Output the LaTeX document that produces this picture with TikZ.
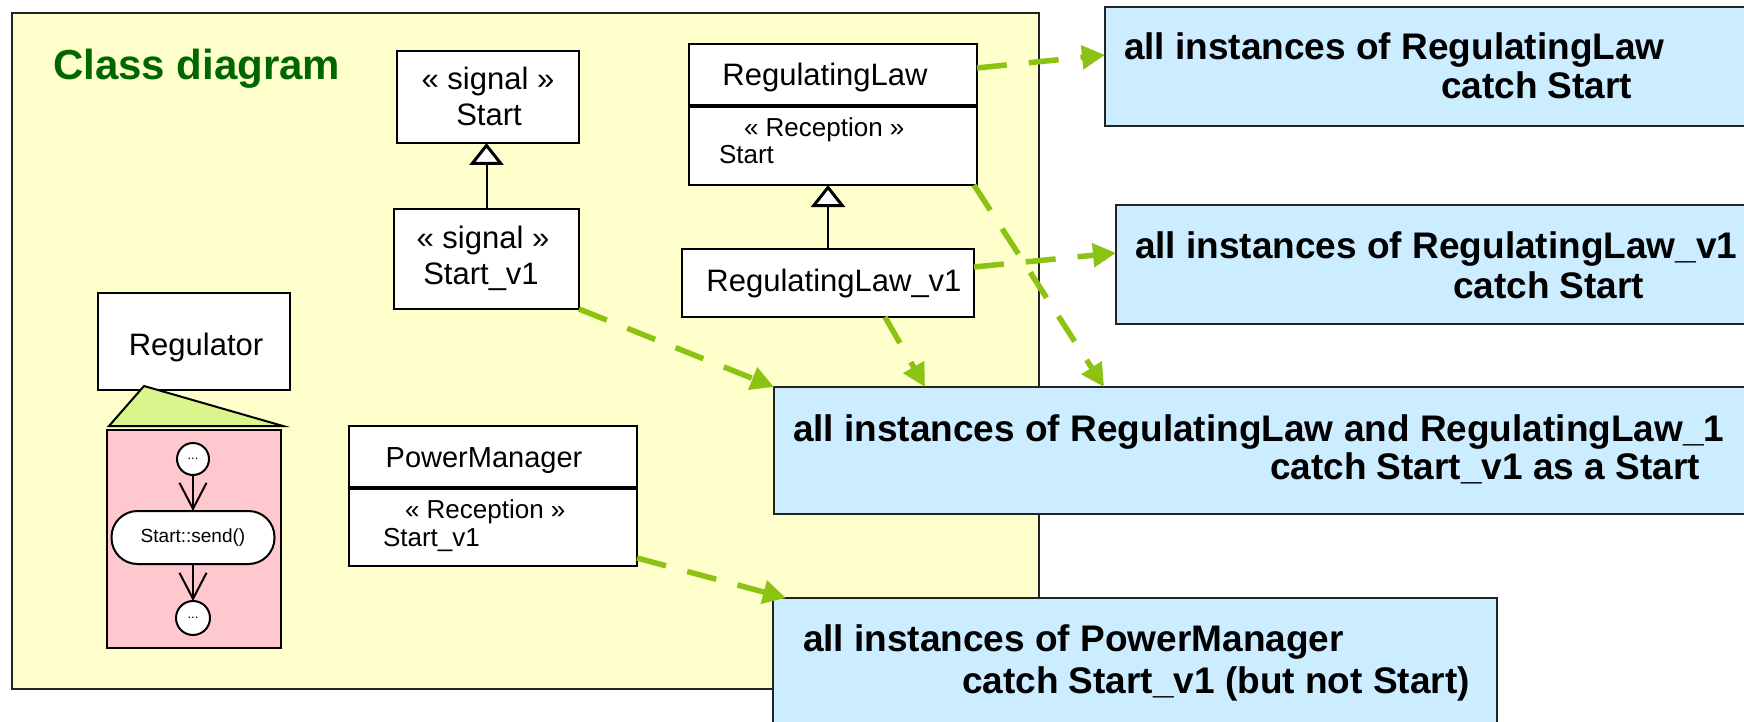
\documentclass[tikz,border=0pt]{standalone}
\usepackage{fontspec}
\setmainfont{Liberation Sans}
\usetikzlibrary{arrows.meta,calc}

\definecolor{frameyellow}{RGB}{255,255,204}
\definecolor{notebl}{RGB}{204,236,255}
\definecolor{linkgreen}{RGB}{140,194,18}
\definecolor{titlegreen}{RGB}{0,102,0}
\definecolor{behavpink}{RGB}{255,200,206}
\definecolor{ownergreen}{RGB}{217,245,140}
\definecolor{edgegray}{RGB}{35,35,35}

\newcommand\setpx[1]{\fontsize{#1}{#1}\selectfont}

\begin{document}
\begin{tikzpicture}[x=1pt,y=-1pt,
  every node/.style={inner sep=0pt, outer sep=0pt},
  frame/.style={draw=edgegray, line width=2pt, fill=frameyellow, anchor=north west},
  classbox/.style={draw=black, line width=2pt, fill=white, anchor=north west},
  note/.style={draw=edgegray, line width=2pt, fill=notebl, anchor=north west},
  txt/.style={font=\setpx{31}},
  smalltxt/.style={font=\setpx{26}, anchor=base west},
  notetxt/.style={font=\bfseries\setpx{37}, anchor=base west},
  gen/.style={line width=2pt, -{Triangle[length=22pt,width=34pt,fill=white,line width=3pt]}},
  link/.style={draw=linkgreen, line width=5.5pt, dash pattern=on 30pt off 22pt,
               -{Triangle[length=23pt,width=23pt,fill=linkgreen]}},
  flow/.style={line width=2pt, -{Straight Barb[length=26pt,width=27pt]}},
  endpoint/.style={circle, draw=black, line width=2pt, fill=white, font=\setpx{13}},
]
\useasboundingbox (0,0) rectangle (1744,722);
\clip (0,0) rectangle (1744,722);
\fill[white] (0,0) rectangle (1744,722);

% package frame
\node[frame, minimum width=1027pt, minimum height=676pt] (frame) at (12,13) {};
\node[font=\bfseries\setpx{42}, text=titlegreen, anchor=base west] (title) at (53,80) {Class diagram};

% signals
\node[classbox, minimum width=182pt, minimum height=92pt] (st) at (397,51) {};
\node[txt, anchor=base] (stStereo) at (488,90) {« signal »};
\node[txt, anchor=base] (stName) at (489,126) {Start};
\node[classbox, minimum width=185pt, minimum height=100pt] (sv) at (394,209) {};
\node[txt, anchor=base] (svStereo) at (483,248) {« signal »};
\node[txt, anchor=base] (svName) at (481,284) {Start\_v1};
\draw[gen] (sv.north) -- (sv.north |- st.south);

% regulating laws
\node[classbox, minimum width=288pt, minimum height=141pt] (rl) at (689,44) {};
\draw[line width=4pt] ($(rl.north west)+(0,62)$) -- ($(rl.north east)+(0,62)$);
\node[txt, anchor=base] (rlName) at (825,86) {RegulatingLaw};
\node[smalltxt] (rlStereo) at (744,137) {« Reception »};
\node[smalltxt] (rlRecv) at (719,164) {Start};
\node[classbox, minimum width=292pt, minimum height=68pt] (rlv) at (682,249) {};
\node[txt, anchor=base] (rlvName) at (834,291) {RegulatingLaw\_v1};
\draw[gen] (rlv.north) -- (rlv.north |- rl.south);

% power manager
\node[classbox, minimum width=288pt, minimum height=140pt] (pm) at (349,426) {};
\draw[line width=4pt] ($(pm.north west)+(0,62)$) -- ($(pm.north east)+(0,62)$);
\node[font=\setpx{29}, anchor=base] (pmName) at (484,467) {PowerManager};
\node[smalltxt] (pmStereo) at (405,518) {« Reception »};
\node[smalltxt] (pmRecv) at (383,546) {Start\_v1};

% regulator and its behaviour
\node[classbox, minimum width=192pt, minimum height=97pt] (reg) at (98,293) {};
\node[txt, anchor=base] (regName) at (196,355) {Regulator};
\draw[line width=2pt, fill=ownergreen, line join=miter] (144,386) -- (283,426) -- (109,426) -- cycle;
\node[draw=black, line width=2pt, fill=behavpink, anchor=north west,
      minimum width=174pt, minimum height=218pt] (behav) at (107,430) {};
\node[endpoint, minimum size=32pt] (init) at (193,459) {...};
\node[draw=black, line width=2pt, fill=white, rounded corners=26pt,
      minimum width=163pt, minimum height=53pt, font=\setpx{19}] (act) at (193,537.5) {Start::send()};
\node[endpoint, minimum size=34pt] (fin) at (193,618) {...};
\draw[flow] (init) -- (act);
\draw[flow] (act) -- (fin);

% notes
\node[note, minimum width=700pt, minimum height=119pt] (b1) at (1105,7) {};
\node[notetxt] (b1a) at (1124,60) {all instances of RegulatingLaw};
\node[notetxt] (b1b) at (1441,99) {catch Start};
\node[note, minimum width=700pt, minimum height=119pt] (b2) at (1116,205) {};
\node[notetxt] (b2a) at (1135,258) {all instances of RegulatingLaw\_v1};
\node[notetxt] (b2b) at (1453,298) {catch Start};
\node[note, minimum width=1000pt, minimum height=127pt] (b3) at (774,387) {};
\node[notetxt] (b3a) at (793,441) {all instances of RegulatingLaw and RegulatingLaw\_1};
\node[notetxt] (b3b) at (1270,479) {catch Start\_v1 as a Start};
\node[note, minimum width=724pt, minimum height=150pt] (b4) at (773,598) {};
\node[notetxt] (b4a) at (803,651) {all instances of PowerManager};
\node[notetxt] (b4b) at (962,693) {catch Start\_v1 (but not Start)};

% reception links
\draw[link] ([yshift=-24pt]rl.north east) -- ([yshift=-48pt]b1.north west);
\draw[link] ([yshift=-18pt]rlv.north east) -- ([yshift=-48pt]b2.north west);
\draw[link] (sv.south east) -- (b3.north west);
\draw[link] ([xshift=57pt]rlv.south) -- ([xshift=151pt]b3.north west);
\draw[link] ([xshift=-3pt]rl.south east) -- ([xshift=330pt]b3.north west);
\draw[link] ([yshift=8pt]pm.south east) -- ([xshift=13pt]b4.north west);
\end{tikzpicture}
\end{document}
